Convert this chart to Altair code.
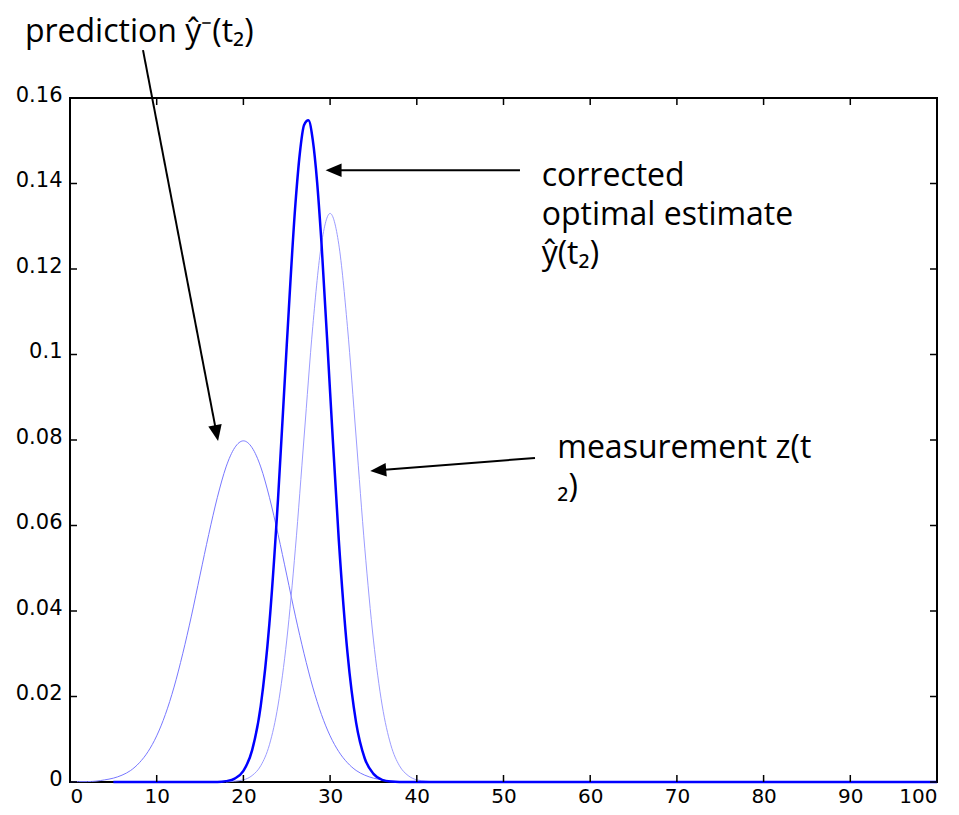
import altair as alt
import pandas as pd

# ---- data ----
pred_x = list(range(0, 63))
pred_y = [0.0000, 0.0001, 0.0001, 0.0002, 0.0005, 0.0009, 0.0016, 0.0027, 0.0045, 0.0071,
          0.0108, 0.0158, 0.0222, 0.0300, 0.0388, 0.0484, 0.0579, 0.0666, 0.0737, 0.0782,
          0.0798, 0.0782, 0.0737, 0.0666, 0.0579, 0.0484, 0.0388, 0.0300, 0.0222, 0.0158,
          0.0108, 0.0071, 0.0045, 0.0027, 0.0016, 0.0009, 0.0005, 0.0002, 0.0001, 0.0001,
          0.0000, 0.0000, 0.0000, 0.0000, 0.0000, 0.0000, 0.0000, 0.0000, 0.0000, 0.0000,
          0.0000, 0.0000, 0.0000, 0.0000, 0.0000, 0.0000, 0.0000, 0.0000, 0.0000, 0.0000,
          0.0000, 0.0000, 0.0000]

meas_x = list(range(18, 43))
meas_y = [0.0000, 0.0002, 0.0005, 0.0015, 0.0038, 0.0087, 0.0180, 0.0332, 0.0547, 0.0807,
          0.1065, 0.1258, 0.1330, 0.1258, 0.1065, 0.0807, 0.0547, 0.0332, 0.0180, 0.0087,
          0.0038, 0.0015, 0.0005, 0.0002, 0.0000]

corr_x = [5, 16, 17, 18, 19, 20, 21, 22, 23, 24, 25, 26, 26.5, 27, 27.5, 28, 28.5,
          29, 30, 31, 32, 33, 34, 35, 36, 37, 38, 39, 100]
corr_y = [0.0000, 0.0000, 0.0000, 0.0002, 0.0008, 0.0026, 0.0074, 0.0178, 0.0371, 0.0664,
          0.1022, 0.1352, 0.1469, 0.1537, 0.1548, 0.1502, 0.1404,
          0.1263, 0.0912, 0.0567, 0.0303, 0.0139, 0.0055, 0.0019, 0.0005, 0.0001, 0.0000,
          0.0000, 0.0000]

x_ticks = [0, 10, 20, 30, 40, 50, 60, 70, 80, 90, 100]
y_ticks = [0, 0.02, 0.04, 0.06, 0.08, 0.1, 0.12, 0.14, 0.16]

# annotation texts (positions in data units; "\n" = line break)
ann_text = ["prediction ŷ⁻(t₂)", "corrected\noptimal estimate\nŷ(t₂)", "measurement z(t\n₂)"]
ann_x = [-5.2, 54.4, 56.2]
ann_y = [0.1730, 0.1394, 0.0758]

# arrows: tail -> head centre, with head rotation
arr_x = [8.42, 51.9, 53.63]
arr_y = [0.1712, 0.1431, 0.0758]
arr_x2 = [16.9, 30.4, 35.55]
arr_y2 = [0.0816, 0.1431, 0.0729]
arr_angle = [169, 270, 265]

W, H = 867, 684
xs = alt.Scale(domain=[0, 100], nice=False, zero=False)
ys = alt.Scale(domain=[0, 0.16], nice=False, zero=False)

pred = pd.DataFrame({"x": pred_x, "y": pred_y})
meas = pd.DataFrame({"x": meas_x, "y": meas_y})
corr = pd.DataFrame({"x": corr_x, "y": corr_y})

xaxis = alt.Axis(values=x_ticks, format="d", domain=False, ticks=False, grid=False,
                 labelFont="DejaVu Sans", labelFontSize=20, labelColor="black",
                 labelPadding=4, title=None)
yaxis = alt.Axis(values=y_ticks, format="~g", domain=False, ticks=False, grid=False,
                 labelFont="DejaVu Sans", labelFontSize=21, labelColor="black",
                 labelPadding=8, labelOffset=-3, title=None)

X = lambda f: alt.X(f, scale=xs, axis=xaxis)
Y = lambda f: alt.Y(f, scale=ys, axis=yaxis)

base_pred = alt.Chart(pred).mark_line(color="#7878ff", strokeWidth=1, interpolate="monotone").encode(
    x=X("x:Q"), y=Y("y:Q"))
base_meas = alt.Chart(meas).mark_line(color="#9c9cff", strokeWidth=1, interpolate="monotone").encode(
    x=X("x:Q"), y=Y("y:Q"))
base_corr = alt.Chart(corr).mark_line(color="#0000ff", strokeWidth=2.5, interpolate="monotone").encode(
    x=X("x:Q"), y=Y("y:Q"))

xt = pd.DataFrame({"x": x_ticks})
yt = pd.DataFrame({"y": y_ticks})
tick_style = dict(color="black", strokeWidth=1.5)
t_bottom = alt.Chart(xt).mark_rule(**tick_style).encode(
    x=X("x:Q"), y=alt.value(H), y2=alt.value(H - 7))
t_top = alt.Chart(xt).mark_rule(**tick_style).encode(
    x=X("x:Q"), y=alt.value(0), y2=alt.value(7))
t_left = alt.Chart(yt).mark_rule(**tick_style).encode(
    y=Y("y:Q"), x=alt.value(0), x2=alt.value(7))
t_right = alt.Chart(yt).mark_rule(**tick_style).encode(
    y=Y("y:Q"), x=alt.value(W), x2=alt.value(W - 7))

ann = pd.DataFrame({"x": ann_x, "y": ann_y, "text": ann_text})
texts = alt.Chart(ann).mark_text(align="left", baseline="alphabetic",
                                 font="Open Sans, Noto Sans CJK KR",
                                 fontSize=32, color="black", lineBreak="\n",
                                 lineHeight=39).encode(
    x=X("x:Q"), y=Y("y:Q"), text="text:N")

arr = pd.DataFrame({"x": arr_x, "y": arr_y, "x2": arr_x2, "y2": arr_y2, "a": arr_angle})
arrow_lines = alt.Chart(arr).mark_rule(color="black", strokeWidth=2).encode(
    x=X("x:Q"), y=Y("y:Q"), x2="x2:Q", y2="y2:Q")
arrow_heads = alt.Chart(arr).mark_point(shape="M0,-1L-0.85,1L0.85,1Z", filled=True, color="black",
                                        size=256, opacity=1).encode(
    x=X("x2:Q"), y=Y("y2:Q"), angle=alt.Angle("a:Q", scale=None))

chart = alt.layer(base_pred, base_meas, base_corr, t_bottom, t_top, t_left, t_right,
                  arrow_lines, arrow_heads, texts).properties(
    width=W, height=H,
    background="white",
    autosize=alt.AutoSizeParams(type="none"),
    padding={"left": 62, "top": 90, "right": 14, "bottom": 25},
).configure_view(stroke="black", strokeWidth=2)

chart.save("out.html", embed_options={"renderer": "svg", "actions": False})
